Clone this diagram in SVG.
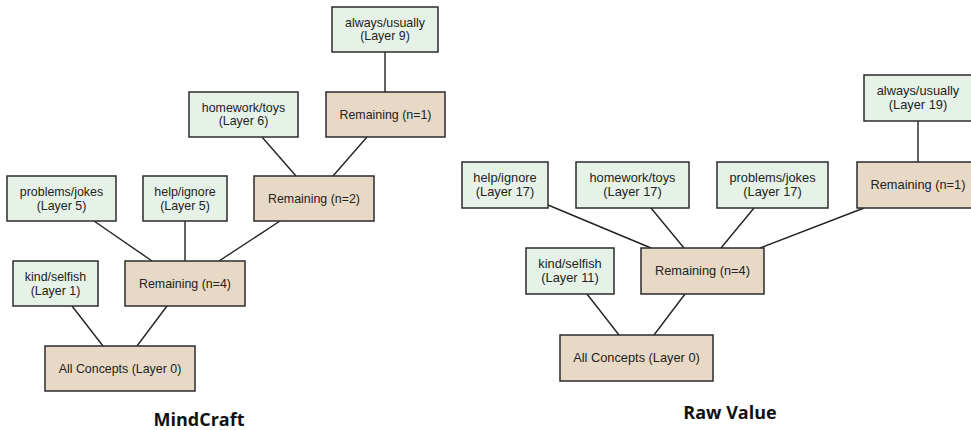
<svg xmlns="http://www.w3.org/2000/svg" width="971" height="430" viewBox="0 0 971 430">
<style>
.c{fill:#e6f2e8;stroke:#2b2b2b;stroke-width:1.5}
.r{fill:#e8d9c6;stroke:#2b2b2b;stroke-width:1.5}
.t{font-family:"Liberation Sans",Arial,sans-serif;font-size:12.4px;fill:#222;text-anchor:middle}
.t2{font-family:"Liberation Sans",Arial,sans-serif;font-size:12.8px;fill:#222;text-anchor:middle}
.h{font-family:"Open Sans","Liberation Sans",sans-serif;font-size:18px;font-weight:bold;fill:#111;text-anchor:middle}
#edges line{stroke:#222;stroke-width:1.4}
</style>
<rect width="971" height="430" fill="#fff"/>
<g id="edges">
<line x1="385" y1="52" x2="385" y2="92"/>
<line x1="262" y1="137" x2="296" y2="176"/>
<line x1="367" y1="137" x2="333" y2="176"/>
<line x1="94" y1="221" x2="152" y2="261"/>
<line x1="185" y1="221" x2="185" y2="261"/>
<line x1="280" y1="221" x2="219" y2="261"/>
<line x1="72" y1="306" x2="103" y2="346"/>
<line x1="167" y1="306" x2="137" y2="346"/>
<line x1="918" y1="121" x2="918" y2="162"/>
<line x1="548" y1="205" x2="651" y2="248"/>
<line x1="651" y1="208" x2="684" y2="248"/>
<line x1="754" y1="208" x2="721" y2="248"/>
<line x1="864" y1="208" x2="760" y2="248"/>
<line x1="587" y1="294" x2="619" y2="335"/>
<line x1="685" y1="294" x2="654" y2="335"/>
</g>
<g id="L_always"><rect class="c" x="332" y="7" width="106" height="45"/><text class="t" x="385" y="27">always/usually</text><text class="t" x="385" y="40">(Layer 9)</text></g>
<g id="L_rem1"><rect class="r" x="326" y="92" width="119" height="45"/><text class="t" x="385.5" y="118.5">Remaining (n=1)</text></g>
<g id="L_homework"><rect class="c" x="189" y="92" width="109" height="45"/><text class="t" x="243.5" y="111.5">homework/toys</text><text class="t" x="243.5" y="125">(Layer 6)</text></g>
<g id="L_rem2"><rect class="r" x="254" y="176" width="120" height="45"/><text class="t" x="314" y="202.5">Remaining (n=2)</text></g>
<g id="L_problems"><rect class="c" x="7" y="176" width="109" height="45"/><text class="t" x="61.5" y="196">problems/jokes</text><text class="t" x="61.5" y="209.5">(Layer 5)</text></g>
<g id="L_help"><rect class="c" x="143" y="176" width="84" height="45"/><text class="t" x="185" y="196">help/ignore</text><text class="t" x="185" y="209.5">(Layer 5)</text></g>
<g id="L_kind"><rect class="c" x="13" y="261" width="85" height="45"/><text class="t" x="55.5" y="281">kind/selfish</text><text class="t" x="55.5" y="294.5">(Layer 1)</text></g>
<g id="L_rem4"><rect class="r" x="125" y="261" width="120" height="45"/><text class="t" x="185" y="287.5">Remaining (n=4)</text></g>
<g id="L_all"><rect class="r" x="45" y="346" width="150" height="45"/><text class="t" x="120" y="372.5">All Concepts (Layer 0)</text></g>
<text class="h" x="199" y="425.5">MindCraft</text>
<g id="R_always"><rect class="c" x="864" y="75" width="115" height="46"/><text class="t2" x="918" y="94.5">always/usually</text><text class="t2" x="918" y="108.5">(Layer 19)</text></g>
<g id="R_rem1"><rect class="r" x="857" y="162" width="122" height="46"/><text class="t2" x="918" y="189">Remaining (n=1)</text></g>
<g id="R_problems"><rect class="c" x="717" y="162" width="111" height="46"/><text class="t2" x="772.5" y="181.5">problems/jokes</text><text class="t2" x="772.5" y="195.5">(Layer 17)</text></g>
<g id="R_homework"><rect class="c" x="576" y="162" width="113" height="46"/><text class="t2" x="632.5" y="181.5">homework/toys</text><text class="t2" x="632.5" y="195.5">(Layer 17)</text></g>
<g id="R_help"><rect class="c" x="462" y="162" width="86" height="46"/><text class="t2" x="505" y="181.5">help/ignore</text><text class="t2" x="505" y="195.5">(Layer 17)</text></g>
<g id="R_kind"><rect class="c" x="526" y="248" width="88" height="46"/><text class="t2" x="570" y="267.5">kind/selfish</text><text class="t2" x="570" y="281.5">(Layer 11)</text></g>
<g id="R_rem4"><rect class="r" x="641" y="248" width="123" height="46"/><text class="t2" x="702.5" y="275">Remaining (n=4)</text></g>
<g id="R_all"><rect class="r" x="560" y="335" width="153" height="46"/><text class="t2" x="636.5" y="362">All Concepts (Layer 0)</text></g>
<text class="h" x="730" y="418.5">Raw Value</text>
</svg>
